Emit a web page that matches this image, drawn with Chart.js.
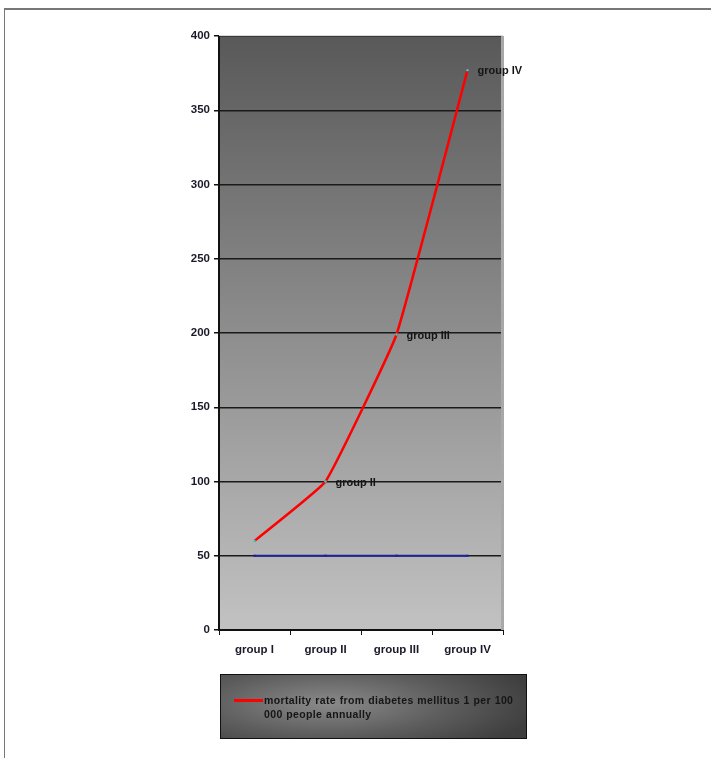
<!DOCTYPE html>
<html><head><meta charset="utf-8">
<script src="https://cdn.jsdelivr.net/npm/chart.js@4"></script>
<style>
html,body{margin:0;padding:0;background:#fff;}
#wrap{position:relative;width:711px;height:758px;overflow:hidden;}
#frame{position:absolute;left:4px;top:8px;width:720px;height:760px;border-top:2px solid #777;border-left:1px solid #777;}
#c{position:absolute;left:0;top:0;}
#legend{position:absolute;left:220px;top:674px;width:305px;height:63px;border:1px solid #111;
background:radial-gradient(ellipse 70% 90% at 35% 45%, #8a8a8a 0%, #5e5e5e 55%, #3e3e3e 100%);
font-family:"Liberation Sans",Arial,sans-serif;font-weight:bold;font-size:10.5px;color:#151515;}
#legend .mk{position:absolute;left:13px;top:24px;width:29px;height:3px;background:#ff0000;}
#legend .tx{position:absolute;left:43px;top:18px;width:256px;line-height:14px;letter-spacing:0.35px;word-spacing:0.5px;}
</style></head>
<body><div id="wrap"><div id="frame"></div><canvas id="c" width="711" height="758"></canvas>
<div id="legend"><div class="mk"></div><div class="tx" id="legtext"></div></div></div>
<script>
const categories = ["group I","group II","group III","group IV"];
const mortality = [60, 100, 199, 377];
const baseline = [50, 50, 50, 50];
const pointLabels = ["", "group II", "group III", "group IV"];
const yTicks = [0,50,100,150,200,250,300,350,400];
const seriesName = "mortality rate from diabetes mellitus 1 per 100 000 people annually";

document.getElementById('legtext').textContent = seriesName;

const bgPlugin = {
  id:'bg',
  beforeDraw(chart){
    const {ctx, chartArea:a} = chart;
    const g = ctx.createLinearGradient(0,a.top,0,a.bottom);
    g.addColorStop(0,'#595959');
    g.addColorStop(1,'#c2c2c2');
    ctx.save();
    ctx.fillStyle = g;
    ctx.fillRect(a.left,a.top,a.right-a.left,a.bottom-a.top);
    ctx.restore();
  },
  afterDatasetsDraw(chart){
    const {ctx, chartArea:a} = chart;
    ctx.save();
    ctx.fillStyle = '#a8a8a8';
    ctx.fillRect(a.right-2,a.top,3,a.bottom-a.top);
    ctx.fillStyle = '#d8d8d8';
    ctx.fillRect(a.left,a.top-1,a.right-a.left,1);
    const meta = chart.getDatasetMeta(0);
    ctx.font = 'bold 11px "Liberation Sans", Arial, sans-serif';
    ctx.fillStyle = '#151515';
    ctx.textBaseline = 'middle';
    meta.data.forEach((p,i)=>{
      if(pointLabels[i]) ctx.fillText(pointLabels[i], p.x+10, p.y+1);
    });
    ctx.restore();
  }
};

new Chart(document.getElementById('c'), {
  type:'line',
  data:{
    labels: categories,
    datasets:[
      {label:seriesName, data:mortality, borderColor:'#ff0000', borderWidth:2.5, tension:0.1,
       pointRadius:1.2, pointBackgroundColor:'#30d0d0', pointBorderWidth:0},
      {label:'baseline', data:baseline, borderColor:'#20209a', borderWidth:2, tension:0,
       pointRadius:1.5, pointStyle:'rect', pointBackgroundColor:'#20209a', pointBorderWidth:0}
    ]
  },
  options:{
    responsive:false, animation:false,
    layout:{padding:{left:0, top:36, right:208, bottom:0}},
    plugins:{legend:{display:false}, tooltip:{enabled:false}},
    scales:{
      y:{
        min:0, max:400,
        afterBuildTicks(s){ s.ticks = yTicks.map(v=>({value:v})); },
        afterFit(s){ s.width = 219; },
        border:{color:'#111', width:2},
        grid:{color:'#1a1a1a', lineWidth:1.5, tickLength:5, tickColor:'#111'},
        ticks:{color:'#1a1a2a', padding:4, font:{family:'"Liberation Sans", Arial, sans-serif', size:11.5, weight:'bold'}}
      },
      x:{
        offset:true,
        afterFit(s){ s.height = 128; },
        border:{color:'#111', width:2},
        grid:{offset:true, drawOnChartArea:false, tickLength:5, color:'#111', lineWidth:1},
        ticks:{color:'#1a1a2a', padding:8, font:{family:'"Liberation Sans", Arial, sans-serif', size:11.5, weight:'bold'}}
      }
    }
  },
  plugins:[bgPlugin]
});
</script></body></html>
